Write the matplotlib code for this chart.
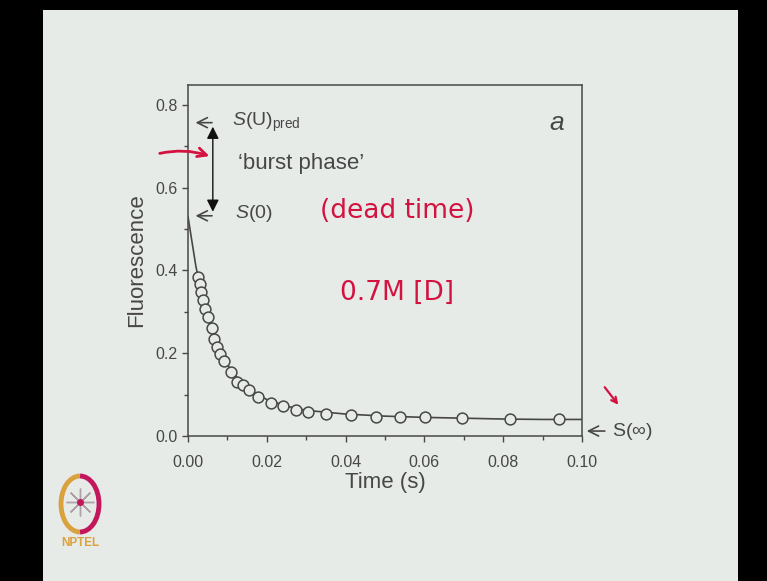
import numpy as np
import matplotlib
matplotlib.use("Agg")
import matplotlib.pyplot as plt
from matplotlib.patches import Rectangle, Arc

# measured points (time in s, fluorescence)
time_pts = [0.0026, 0.0030, 0.0033, 0.0037, 0.0043, 0.0052, 0.0060, 0.0067, 0.0074,
            0.0081, 0.0092, 0.0108, 0.0124, 0.0140, 0.0156, 0.0178, 0.0210, 0.0242,
            0.0273, 0.0304, 0.0350, 0.0413, 0.0476, 0.0538, 0.0602, 0.0695, 0.0817, 0.0942]
fluo_pts = [0.384, 0.368, 0.348, 0.328, 0.308, 0.288, 0.260, 0.235, 0.215,
            0.199, 0.181, 0.155, 0.131, 0.123, 0.111, 0.095, 0.080, 0.072,
            0.064, 0.059, 0.053, 0.051, 0.047, 0.045, 0.045, 0.043, 0.040, 0.040]

# fitted curve
fit_t = [0.0, 0.001, 0.002, 0.003, 0.004, 0.006, 0.008, 0.010, 0.013, 0.016, 0.020,
         0.025, 0.030, 0.040, 0.050, 0.060, 0.070, 0.080, 0.090, 0.100]
fit_y = [0.530, 0.470, 0.410, 0.365, 0.315, 0.258, 0.210, 0.172, 0.135, 0.110, 0.088,
         0.072, 0.062, 0.053, 0.048, 0.045, 0.043, 0.041, 0.040, 0.040]

S_U_pred = 0.757
S_0 = 0.532
S_inf = 0.012

x_ticks = [0.00, 0.02, 0.04, 0.06, 0.08, 0.10]
y_ticks = [0.0, 0.2, 0.4, 0.6, 0.8]

W, H = 767, 581
bg = '#e7ebe8'
ink = '#474747'
red = '#d4123f'

plt.rcParams['font.family'] = ['Liberation Sans', 'DejaVu Sans']
plt.rcParams['mathtext.fontset'] = 'custom'
plt.rcParams['mathtext.rm'] = 'Liberation Sans'
plt.rcParams['mathtext.it'] = 'Liberation Sans:italic'

fig = plt.figure(figsize=(W / 100, H / 100), dpi=100)
fig.patch.set_facecolor('black')
# slide area
fig.patches.append(Rectangle((43 / W, 0), (738 - 43) / W, 1 - 10 / H,
                             transform=fig.transFigure, facecolor=bg,
                             edgecolor='none', zorder=-1))

ax = fig.add_axes([188 / W, 1 - 436 / H, 394 / W, (436 - 85) / H])
ax.set_facecolor(bg)
ax.plot(fit_t, fit_y, color=ink, lw=1.2, zorder=2)
ax.plot(time_pts, fluo_pts, 'o', ms=7.8, mfc=bg, mec=ink, mew=1.1, zorder=3)

ax.set_xlim(0, 0.1)
ax.set_ylim(0, 0.848)
ax.set_xticks(x_ticks)
ax.set_xticklabels([f'{v:.2f}' for v in x_ticks])
ax.set_yticks(y_ticks)
ax.set_yticklabels([f'{v:.1f}' for v in y_ticks])
ax.set_xticks(np.arange(0.01, 0.1, 0.02), minor=True)
ax.set_yticks([0.1, 0.3, 0.5, 0.7], minor=True)
ax.tick_params(which='both', direction='out', colors=ink, labelsize=11.5, width=1.0)
ax.tick_params(which='major', length=4)
ax.tick_params(which='minor', length=3)
ax.tick_params(axis='x', which='major', pad=10)
for s in ax.spines.values():
    s.set_color(ink)
    s.set_linewidth(1.1)
ax.set_xlabel('Time (s)', fontsize=16, color=ink, labelpad=1)
ax.set_ylabel('Fluorescence', fontsize=16, color=ink, labelpad=6)

# annotations
arr = dict(arrowstyle='->', color=ink, lw=1.2, mutation_scale=18)
ax.annotate('', xy=(0.0012, S_U_pred), xytext=(0.0068, S_U_pred), arrowprops=arr)
ax.annotate('', xy=(0.0012, S_0), xytext=(0.0068, S_0), arrowprops=arr)
ax.annotate('', xy=(0.0063, S_0 + 0.003), xytext=(0.0063, S_U_pred - 0.003),
            arrowprops=dict(arrowstyle='<|-|>', color='#111111', lw=1.0, mutation_scale=18))
ax.text(0.0112, S_U_pred, r'$\mathit{S}\mathrm{(U)}_{\mathrm{pred}}$', fontsize=14,
        color=ink, va='center')
ax.text(0.0120, S_0 + 0.005, r'$\mathit{S}\mathrm{(0)}$', fontsize=14, color=ink, va='center')
ax.text(0.0127, 0.658, '\u2018burst phase\u2019', fontsize=16, color=ink, va='center')
ax.text(0.0935, 0.757, 'a', fontsize=19, style='italic', color=ink, ha='center', va='center')
ax.annotate('', xy=(0.1005, S_inf), xytext=(0.1065, S_inf), annotation_clip=False,
            arrowprops=arr)
ax.text(0.1077, S_inf, r'S($\infty$)', fontsize=14, color=ink, va='center', clip_on=False)

# overlay in pixel coordinates for handwriting and logo
ov = fig.add_axes([0, 0, 1, 1], facecolor='none', zorder=5)
ov.set_xlim(0, W)
ov.set_ylim(H, 0)
ov.axis('off')
hand = dict(color=red, fontsize=19, family='DejaVu Sans', va='center')
ov.text(320, 211, '(dead time)', **hand)
ov.text(340, 293, '0.7M [D]', **hand)
ov.annotate('', xy=(212, 157), xytext=(157, 154),
            arrowprops=dict(arrowstyle='->', color=red, lw=2.0, mutation_scale=16,
                            connectionstyle='arc3,rad=-0.15'))
ov.annotate('', xy=(620, 407), xytext=(603, 385),
            arrowprops=dict(arrowstyle='->', color=red, lw=1.6, mutation_scale=10))

# NPTEL logo
ov.add_patch(Arc((80, 504), 38, 56, theta1=90, theta2=270, color='#d9a23f', lw=3.5))
ov.add_patch(Arc((80, 504), 38, 56, theta1=-90, theta2=90, color='#c2185b', lw=3.5))
ov.plot([80], [502], marker=(8, 2, 0), ms=20, color='#b0a0a8', mew=1)
ov.plot([80], [502], 'o', ms=4, color='#c2185b')
ov.text(80, 543, 'NPTEL', color='#d9a23f', fontsize=8.5, fontweight='bold',
        ha='center', va='center')

fig.savefig('out.png', dpi=100, facecolor=fig.get_facecolor())
